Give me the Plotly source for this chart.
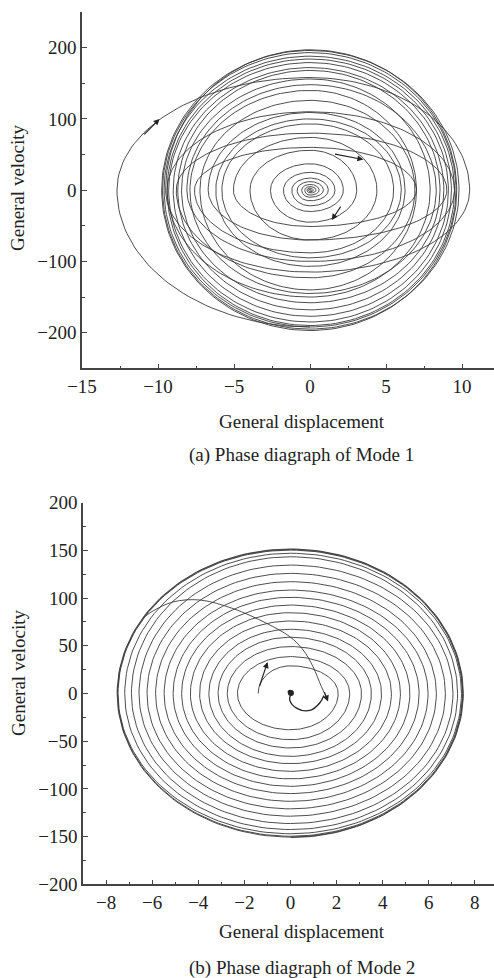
import numpy as np
import plotly.graph_objects as go

# ---------------- Mode 1: crossing values of each revolution
m1_start_v = -192
m1_left_x = [-12.7, -9.5, -9.76, -9.7, -9.6, -9.4, -9.3, -9.0, -8.7, -8.45, -9.4, -8.1, -7.9, -7.24,
             -8.8, -6.7, -6.2, -5.8, -7.6, -5.04, -3.95, -2.6, -1.75, -1.2, -0.85, -0.55, -0.35, -0.2, -0.1]
m1_top_v = [158, 197, 196, 193, 188, 184, 179, 172, 168, 156, 110, 148, 140, 126,
            80, 109, 100, 93, 60, 74, 56, 37, 25, 17, 12, 8, 5, 3, 1.5]
m1_right_x = [10.5, 9.65, 9.8, 9.6, 9.5, 9.3, 9.1, 8.8, 8.55, 7.9, 9.5, 8.3, 7.0, 6.9,
              9.0, 6.25, 6.0, 5.5, 7.0, 4.4, 3.07, 2.19, 1.64, 1.2, 0.88, 0.6, 0.4, 0.22, 0.1]
m1_bottom_v = [-115, -197, -195, -192, -190, -185, -177, -168, -158, -150, -100, -145, -140, -123,
               -70, -107, -95, -88, -51, -70, -45, -30, -22, -15, -10, -7, -4, -2.5, -1]

# ---------------- Mode 2
m2_left_x = [-1.4, -2.3, -2.74, -3.14, -3.54, -3.94, -4.34, -4.72, -5.09, -5.48, -5.85,
             -6.22, -6.57, -6.9, -7.19, -7.48, -7.5, -7.52]
m2_top_v = [29, 38.7, 49.2, 59, 67.3, 76, 84.7, 92.7, 100.8, 108.4, 117.2, 125.9,
            134.6, 143.3, 147, 150.3, 151, 151.5]
m2_right_x = [2.07, 2.57, 3.08, 3.51, 3.95, 4.38, 4.77, 5.18, 5.58, 5.97, 6.33, 6.72,
              7.05, 7.25, 7.42, 7.46, 7.48, 7.5]
m2_bottom_v = [-38, -48.4, -57.1, -65.9, -73.5, -81.6, -89.5, -97.3, -104.9, -113, -120.9,
               -128.6, -136.3, -142.6, -147, -149.6, -150.5, -151]
m2_arc_x = [-6.4, -6.0, -5.09, -3.93, -2.49, -1.04, -0.03, 0.55, 0.98, 1.34, 1.6]
m2_arc_v = [79, 86, 96, 98, 89, 73.6, 59.6, 45.7, 28, 7.3, -6]
m2_core_x = [-0.02, -0.1, -0.05, 0.06, 0.08, 0.0, -0.03, 0.26, 0.84, 1.27, 1.45]
m2_core_v = [0, 1.5, 3, 2.5, 0, -2, -7, -15.3, -17.8, -10, -2]

# arrows (tail x, tail v, tip x, tip v)
m1_arrows = [(-11.0, 76, -9.9, 100), (1.54, 51, 3.51, 43), (2.08, -21, 1.43, -42)]
m2_arrows = [(-1.37, 6, -0.99, 33), (1.45, 3, 1.63, -8.4)]
m2_dot = (0.02, 0.5)


def spiral(left, top, right, bottom, start_v=None, n=45):
    th = np.linspace(0, np.pi / 2, n)
    xs, vs = [], []
    if start_v is not None:
        xs += list(left[0] * np.sin(th)); vs += list(start_v * np.cos(th))
    for i in range(len(top)):
        xs += list(left[i] * np.cos(th)); vs += list(top[i] * np.sin(th))
        xs += list(right[i] * np.sin(th)); vs += list(top[i] * np.cos(th))
        xs += list(right[i] * np.cos(th)); vs += list(bottom[i] * np.sin(th))
        if i + 1 < len(left):
            xs += list(left[i + 1] * np.sin(th)); vs += list(bottom[i] * np.cos(th))
    return xs, vs


LC = '#3a3a3a'
AX = '#444444'
FONT = 'Liberation Serif'
FS = 19

x1, v1 = spiral(m1_left_x, m1_top_v, m1_right_x, m1_bottom_v, start_v=m1_start_v)
x2, v2 = spiral(m2_left_x, m2_top_v, m2_right_x, m2_bottom_v)

fig = go.Figure()
fig.add_trace(go.Scatter(x=x1, y=v1, mode='lines', line=dict(color=LC, width=0.9),
                         xaxis='x', yaxis='y', hoverinfo='skip', showlegend=False))
fig.add_trace(go.Scatter(x=x2, y=v2, mode='lines', line=dict(color=LC, width=0.9),
                         xaxis='x2', yaxis='y2', hoverinfo='skip', showlegend=False))
fig.add_trace(go.Scatter(x=m2_arc_x, y=m2_arc_v, mode='lines', line=dict(color=LC, width=0.9, shape='spline'),
                         xaxis='x2', yaxis='y2', hoverinfo='skip', showlegend=False))
fig.add_trace(go.Scatter(x=m2_core_x, y=m2_core_v, mode='lines', line=dict(color='#222', width=1.3, shape='spline'),
                         xaxis='x2', yaxis='y2', hoverinfo='skip', showlegend=False))
fig.add_trace(go.Scatter(x=[m2_dot[0]], y=[m2_dot[1]], mode='markers',
                         marker=dict(color='#222', size=6, symbol='circle'),
                         xaxis='x2', yaxis='y2', hoverinfo='skip', showlegend=False))

annots = []
for (tx, tv, hx, hv) in m1_arrows:
    annots.append(dict(x=hx, y=hv, ax=tx, ay=tv, xref='x', yref='y', axref='x', ayref='y',
                       showarrow=True, arrowhead=2, arrowsize=1.1, arrowwidth=1.1, arrowcolor='#222', text=''))
for (tx, tv, hx, hv) in m2_arrows:
    annots.append(dict(x=hx, y=hv, ax=tx, ay=tv, xref='x2', yref='y2', axref='x2', ayref='y2',
                       showarrow=True, arrowhead=2, arrowsize=1.1, arrowwidth=1.1, arrowcolor='#222', text=''))

tf = dict(family=FONT, size=FS, color='#222')
texts = [
    ("General velocity", 18, 1 - 188 / 978, -90),
    ("General velocity", 18, 1 - 673 / 978, -90),
    ("General displacement", 302, 1 - 421 / 978, 0),
    ("(a) Phase diagraph of Mode 1", 301, 1 - 455 / 978, 0),
    ("General displacement", 302, 1 - 931 / 978, 0),
    ("(b) Phase diagraph of Mode 2", 302, 1 - 968 / 978, 0),
]
for t, px, py, ang in texts:
    annots.append(dict(text=t, x=px / 494, y=py, xref='paper', yref='paper', showarrow=False,
                       textangle=ang, xanchor='center', yanchor='middle', font=tf))


def axstyle(**kw):
    d = dict(showline=True, linecolor=AX, linewidth=1.5, ticks='inside', ticklen=5, tickwidth=1.3,
             tickcolor=AX, showgrid=False, zeroline=False, tickfont=tf, automargin=False)
    d.update(kw)
    return d


fig.update_layout(
    width=494, height=978, margin=dict(l=0, r=0, t=0, b=0, pad=0), autosize=False,
    paper_bgcolor='white', plot_bgcolor='white', showlegend=False,
    xaxis=axstyle(domain=[82 / 494, 1], range=[-15, 12.1], tickmode='array',
                  tickvals=[-15, -10, -5, 0, 5, 10], anchor='y',
                  minor=dict(tickmode='linear', tick0=-15, dtick=2.5, ticks='inside', ticklen=3, tickcolor=AX)),
    yaxis=axstyle(domain=[1 - 368.3 / 978, 1 - 12 / 978], range=[-250, 250], tickmode='array',
                  tickvals=[-200, -100, 0, 100, 200], anchor='x',
                  minor=dict(tickmode='linear', tick0=0, dtick=50, ticks='inside', ticklen=3, tickcolor=AX)),
    xaxis2=axstyle(domain=[83 / 494, 1], range=[-9, 8.83], tickmode='array',
                   tickvals=[-8, -6, -4, -2, 0, 2, 4, 6, 8], anchor='y2',
                   minor=dict(tickmode='linear', tick0=0, dtick=1, ticks='inside', ticklen=3, tickcolor=AX)),
    yaxis2=axstyle(domain=[1 - 884.3 / 978, 1 - 502.7 / 978], range=[-200, 200], tickmode='array',
                   tickvals=[-200, -150, -100, -50, 0, 50, 100, 150, 200], anchor='x2',
                   minor=dict(tickmode='linear', tick0=0, dtick=25, ticks='inside', ticklen=3, tickcolor=AX)),
    annotations=annots,
)

fig.write_html("out.html")
